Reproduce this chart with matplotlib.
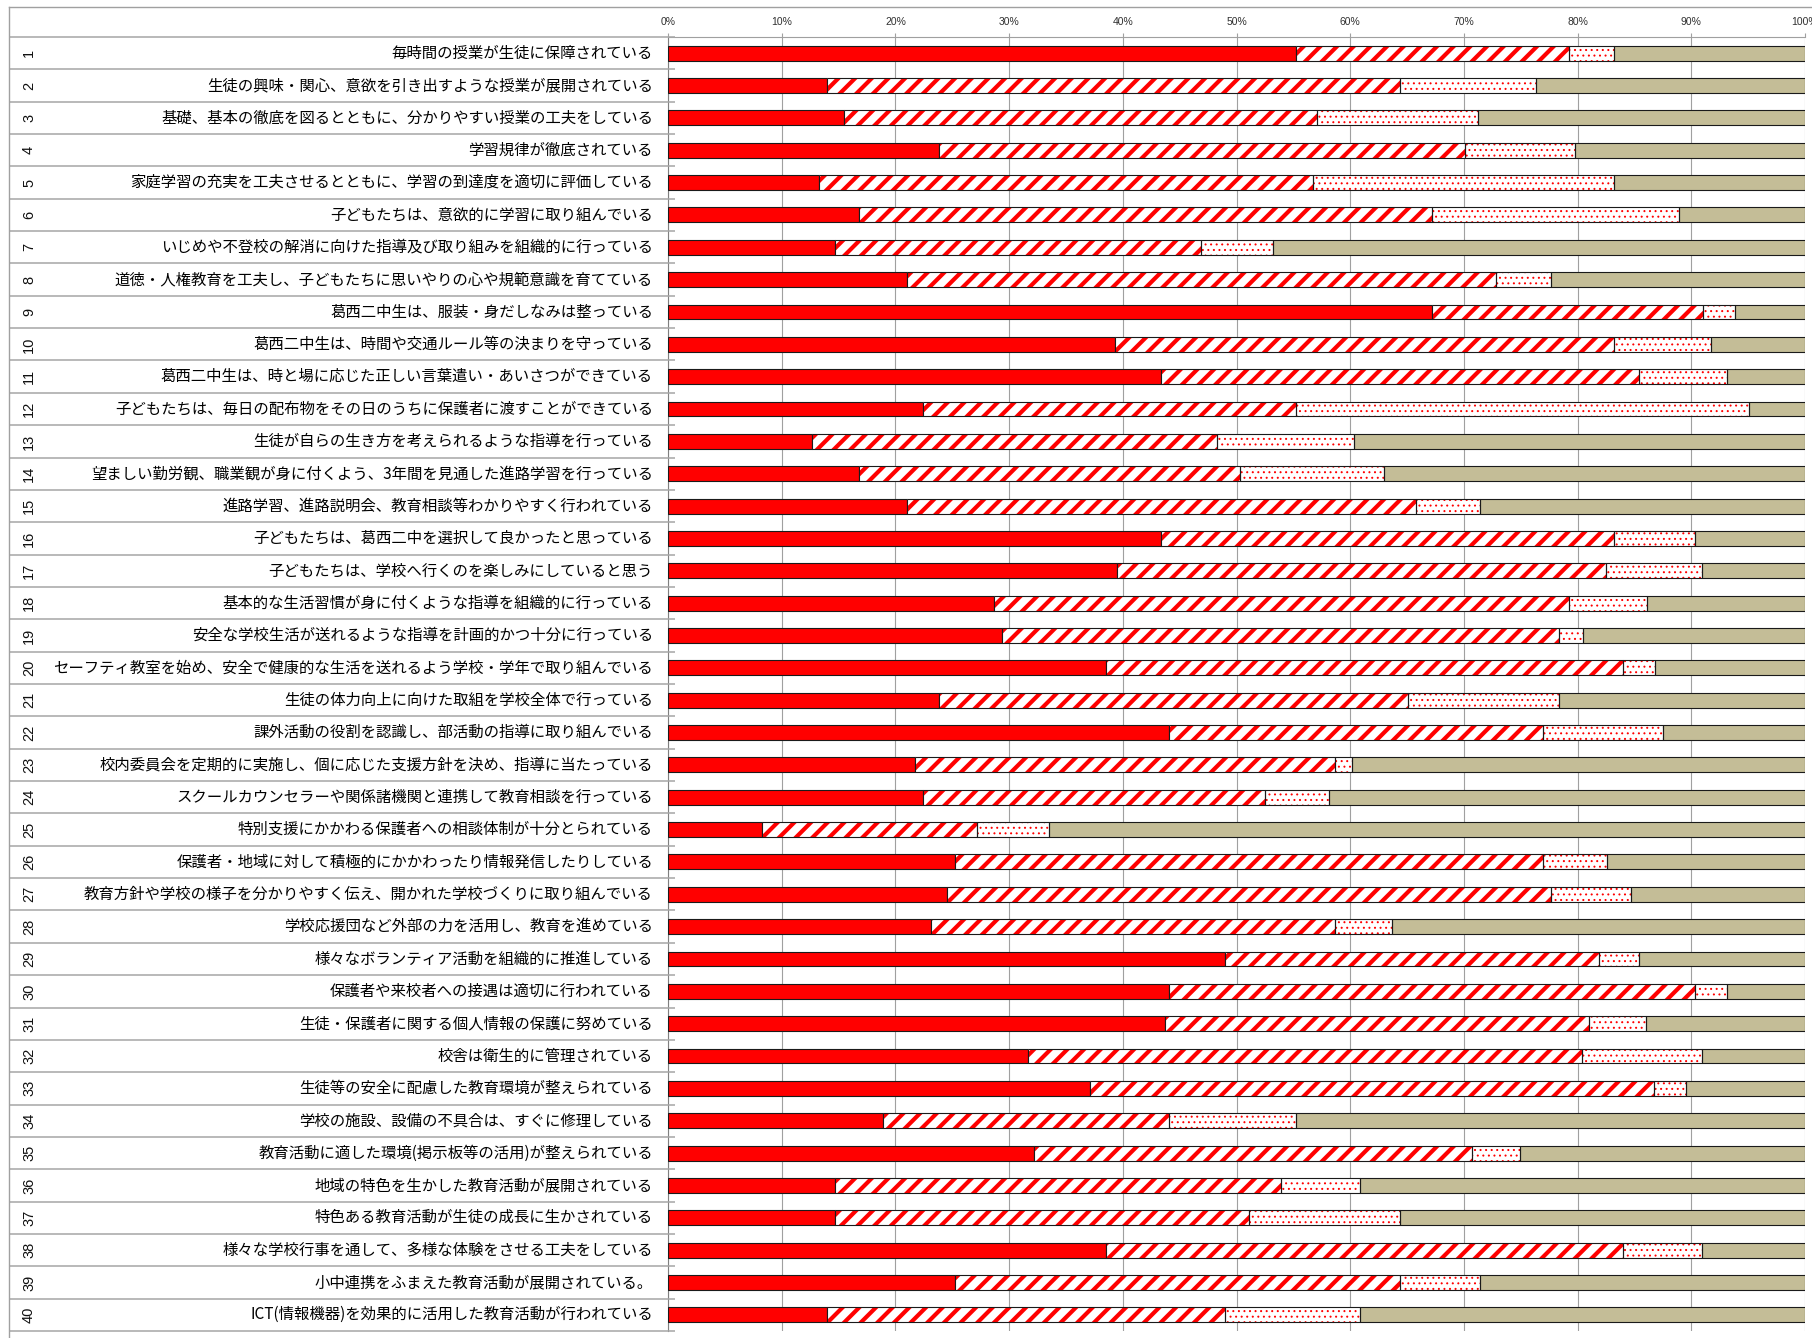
import matplotlib
matplotlib.use("Agg")
import matplotlib.pyplot as plt
from matplotlib.lines import Line2D
import numpy as np

plt.rcParams["font.family"] = ["Noto Sans CJK JP", "DejaVu Sans"]

# 評価項目（上から順）
items = [
    "毎時間の授業が生徒に保障されている",
    "生徒の興味・関心、意欲を引き出すような授業が展開されている",
    "基礎、基本の徹底を図るとともに、分かりやすい授業の工夫をしている",
    "学習規律が徹底されている",
    "家庭学習の充実を工夫させるとともに、学習の到達度を適切に評価している",
    "子どもたちは、意欲的に学習に取り組んでいる",
    "いじめや不登校の解消に向けた指導及び取り組みを組織的に行っている",
    "道徳・人権教育を工夫し、子どもたちに思いやりの心や規範意識を育てている",
    "葛西二中生は、服装・身だしなみは整っている",
    "葛西二中生は、時間や交通ルール等の決まりを守っている",
    "葛西二中生は、時と場に応じた正しい言葉遣い・あいさつができている",
    "子どもたちは、毎日の配布物をその日のうちに保護者に渡すことができている",
    "生徒が自らの生き方を考えられるような指導を行っている",
    "望ましい勤労観、職業観が身に付くよう、3年間を見通した進路学習を行っている",
    "進路学習、進路説明会、教育相談等わかりやすく行われている",
    "子どもたちは、葛西二中を選択して良かったと思っている",
    "子どもたちは、学校へ行くのを楽しみにしていると思う",
    "基本的な生活習慣が身に付くような指導を組織的に行っている",
    "安全な学校生活が送れるような指導を計画的かつ十分に行っている",
    "セーフティ教室を始め、安全で健康的な生活を送れるよう学校・学年で取り組んでいる",
    "生徒の体力向上に向けた取組を学校全体で行っている",
    "課外活動の役割を認識し、部活動の指導に取り組んでいる",
    "校内委員会を定期的に実施し、個に応じた支援方針を決め、指導に当たっている",
    "スクールカウンセラーや関係諸機関と連携して教育相談を行っている",
    "特別支援にかかわる保護者への相談体制が十分とられている",
    "保護者・地域に対して積極的にかかわったり情報発信したりしている",
    "教育方針や学校の様子を分かりやすく伝え、開かれた学校づくりに取り組んでいる",
    "学校応援団など外部の力を活用し、教育を進めている",
    "様々なボランティア活動を組織的に推進している",
    "保護者や来校者への接遇は適切に行われている",
    "生徒・保護者に関する個人情報の保護に努めている",
    "校舎は衛生的に管理されている",
    "生徒等の安全に配慮した教育環境が整えられている",
    "学校の施設、設備の不具合は、すぐに修理している",
    "教育活動に適した環境(掲示板等の活用)が整えられている",
    "地域の特色を生かした教育活動が展開されている",
    "特色ある教育活動が生徒の成長に生かされている",
    "様々な学校行事を通して、多様な体験をさせる工夫をしている",
    "小中連携をふまえた教育活動が展開されている。",
    "ICT(情報機器)を効果的に活用した教育活動が行われている",
]

# 回答の割合（%）
very_good = [55.2, 14.0, 15.5, 23.8, 13.3, 16.8, 14.7, 21.0, 67.2, 39.3,
             43.4, 22.4, 12.7, 16.8, 21.0, 43.4, 39.5, 28.7, 29.4, 38.5,
             23.8, 44.1, 21.7, 22.4, 8.3, 25.2, 24.5, 23.1, 49.0, 44.1,
             43.7, 31.7, 37.1, 18.9, 32.2, 14.7, 14.7, 38.5, 25.2, 14.0]
good = [24.0, 50.4, 41.6, 46.3, 43.4, 50.4, 32.2, 51.8, 23.8, 43.9,
        42.0, 32.8, 35.6, 33.5, 44.8, 39.8, 43.0, 50.5, 49.0, 45.5,
        41.3, 32.9, 37.0, 30.1, 18.9, 51.8, 53.2, 35.6, 32.9, 46.2,
        37.3, 48.7, 49.6, 25.2, 38.5, 39.2, 36.4, 45.5, 39.2, 35.0]
fair = [4.0, 11.9, 14.1, 9.7, 26.5, 21.7, 6.3, 4.9, 2.8, 8.5,
        7.7, 39.9, 12.0, 12.7, 5.6, 7.1, 8.4, 6.9, 2.1, 2.8,
        13.3, 10.5, 1.5, 5.6, 6.3, 5.6, 7.0, 5.0, 3.5, 2.8,
        5.0, 10.5, 2.8, 11.1, 4.2, 7.0, 13.3, 6.9, 7.0, 11.9]
poor = [16.8, 23.7, 28.8, 20.2, 16.8, 11.1, 46.8, 22.3, 6.2, 8.3,
        6.9, 4.9, 39.7, 37.0, 28.6, 9.7, 9.1, 13.9, 19.5, 13.2,
        21.6, 12.5, 39.8, 41.9, 66.5, 17.4, 15.3, 36.3, 14.6, 6.9,
        14.0, 9.1, 10.5, 44.8, 25.1, 39.1, 35.6, 9.1, 28.6, 39.1]
pct_ticks = list(range(0, 101, 10))

W, H = 1812, 1338
fig = plt.figure(figsize=(W / 100, H / 100), dpi=100)
x0, x1 = 668 / W, 1805 / W
y_top, y_bot = 1 - 37 / H, 1 - 1331 / H
ax = fig.add_axes([x0, y_bot, x1 - x0, y_top - y_bot])
tab = fig.add_axes([9 / W, y_bot, x0 - 9 / W, y_top - y_bot])

n = len(items)
y = np.arange(n)
h = 0.46
edge = "#1a1a1a"


def hatched_barh(vals, left, hatch, lw):
    # ハッチ線の太さはパッチ生成時の rcParams で決まる
    with plt.rc_context({"hatch.linewidth": lw}):
        bars = ax.barh(y, vals, left=left, height=h, color="white", edgecolor="#ff0000",
                       hatch=hatch, linewidth=0, zorder=3)
    for p in bars:
        if hasattr(p, "set_hatch_linewidth"):
            p.set_hatch_linewidth(lw)
    ax.barh(y, vals, left=left, height=h, fill=False, edgecolor=edge, linewidth=0.8, zorder=4)


left = np.zeros(n)
ax.barh(y, very_good, left=left, height=h, color="#ff0000", edgecolor=edge, linewidth=0.8, zorder=3)
left += np.array(very_good)
hatched_barh(good, left, "//", 3.0)
left += np.array(good)
hatched_barh(fair, left, "...", 0.7)
left += np.array(fair)
ax.barh(y, poor, left=left, height=h, color="#c4bd97", edgecolor=edge, linewidth=0.8, zorder=3)

ax.set_xlim(0, 100)
ax.set_ylim(n - 0.5, -0.5)
ax.set_yticks([])
ax.set_xticks(pct_ticks)
ax.set_xticklabels([f"{t}%" for t in pct_ticks], fontfamily="Liberation Sans")
ax.xaxis.set_ticks_position("top")
ax.tick_params(axis="x", length=3, width=0.8, color="#a0a0a0", pad=4, labelsize=7.5, labelcolor="#303030")
ax.set_axisbelow(True)
ax.grid(axis="x", color="#a0a0a0", linewidth=0.8)
for s in ("right", "bottom"):
    ax.spines[s].set_visible(False)
ax.spines["left"].set_color("#7f7f7f")
ax.spines["top"].set_color("#a0a0a0")

# 左側の表（番号と項目名）
tab.set_xlim(0, 1)
tab.set_ylim(n - 0.5, -0.5)
tab.axis("off")
tab.hlines(np.arange(n + 1) - 0.5, 0, 1.01, color="#a6a6a6", linewidth=1.1, clip_on=False)
for i, name in enumerate(items):
    tab.text(20 / 659, i, str(i + 1), rotation=90, ha="center", va="center",
             fontsize=10.5, fontfamily="Liberation Sans", color="#101010")
    tab.text(644 / 659, i, name, ha="right", va="center", fontsize=11.1, color="black")

# 外枠
fig.add_artist(Line2D([9 / W, 9 / W], [0, 1 - 7 / H], color="#a0a0a0", linewidth=1.0))
fig.add_artist(Line2D([9 / W, 1], [1 - 7 / H, 1 - 7 / H], color="#a0a0a0", linewidth=1.0))

fig.savefig("out.png", dpi=100)
plt.close(fig)
